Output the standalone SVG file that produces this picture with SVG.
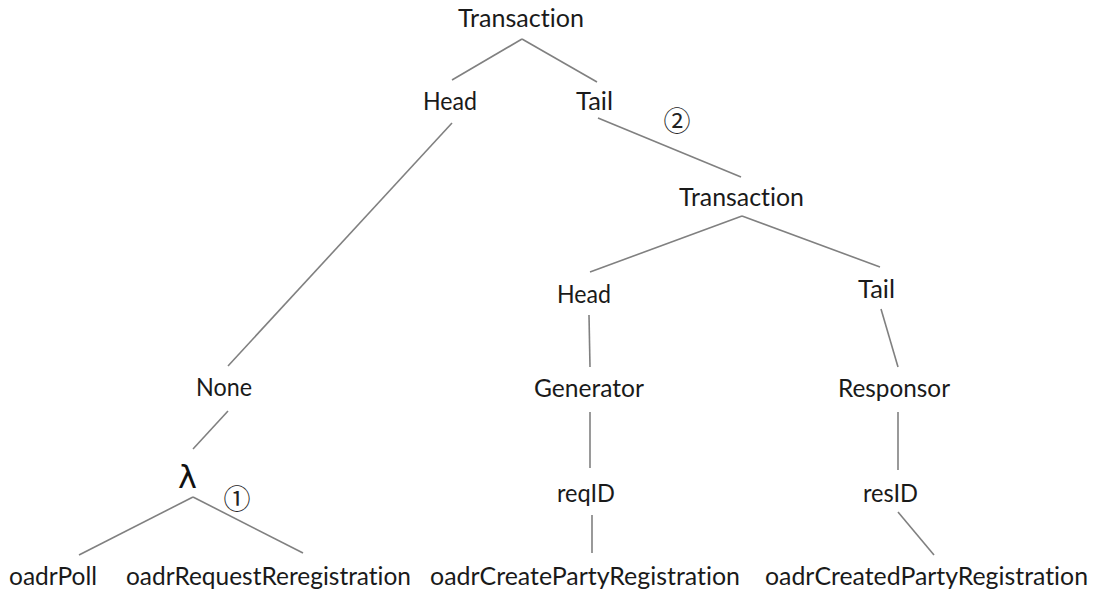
<svg xmlns="http://www.w3.org/2000/svg" width="1098" height="590" viewBox="0 0 1098 590">
<style>
.t{font-family:Lato,"Open Sans","Liberation Sans",sans-serif;font-size:24.5px;fill:#1a1a1a;font-variant-ligatures:none;font-feature-settings:"liga" 0}
.lam{font-family:"DejaVu Sans",sans-serif;font-size:32px;fill:#111}
.num{font-family:"Noto Sans CJK JP","DejaVu Sans",sans-serif;font-size:27px;fill:#222;text-anchor:middle}
.e line{stroke:#808080;stroke-width:1.6;fill:none}
</style>
<rect width="1098" height="590" fill="#fff"/>
<g id="connectors" class="e">
<line x1="522" y1="39" x2="452" y2="80"/>
<line x1="522" y1="39" x2="597" y2="82"/>
<line x1="452" y1="123" x2="228" y2="366"/>
<line x1="598" y1="118" x2="741" y2="177"/>
<line x1="742" y1="216" x2="590" y2="272"/>
<line x1="742" y1="216" x2="880" y2="267"/>
<line x1="589" y1="315" x2="590" y2="367"/>
<line x1="881" y1="309" x2="898" y2="367"/>
<line x1="228" y1="411" x2="193" y2="449"/>
<line x1="590" y1="412" x2="590" y2="468"/>
<line x1="898" y1="412" x2="898" y2="470"/>
<line x1="193" y1="497" x2="79" y2="555"/>
<line x1="193" y1="497" x2="303" y2="553"/>
<line x1="592" y1="515" x2="592" y2="553"/>
<line x1="898" y1="512" x2="934" y2="555"/>
</g>
<g id="n-transaction1"><text class="t" x="458" y="27" textLength="126" lengthAdjust="spacingAndGlyphs">Transaction</text></g>
<g id="n-head1"><text class="t" x="423" y="110" textLength="54" lengthAdjust="spacingAndGlyphs">Head</text></g>
<g id="n-tail1"><text class="t" x="576" y="110" textLength="37" lengthAdjust="spacingAndGlyphs">Tail</text></g>
<g id="label-2"><text class="num" x="677" y="131">②</text></g>
<g id="n-transaction2"><text class="t" x="679" y="206" textLength="125" lengthAdjust="spacingAndGlyphs">Transaction</text></g>
<g id="n-head2"><text class="t" x="557" y="303" textLength="54" lengthAdjust="spacingAndGlyphs">Head</text></g>
<g id="n-tail2"><text class="t" x="858" y="298" textLength="37" lengthAdjust="spacingAndGlyphs">Tail</text></g>
<g id="n-none"><text class="t" x="196" y="396" textLength="56" lengthAdjust="spacingAndGlyphs">None</text></g>
<g id="n-generator"><text class="t" x="534" y="397" textLength="110" lengthAdjust="spacingAndGlyphs">Generator</text></g>
<g id="n-responsor"><text class="t" x="838" y="397" textLength="112" lengthAdjust="spacingAndGlyphs">Responsor</text></g>
<g id="n-lambda"><text class="lam" x="178" y="488">λ</text></g>
<g id="label-1"><text class="num" x="237" y="509">①</text></g>
<g id="n-reqid"><text class="t" x="557" y="502" textLength="58" lengthAdjust="spacingAndGlyphs">reqID</text></g>
<g id="n-resid"><text class="t" x="863" y="502" textLength="55" lengthAdjust="spacingAndGlyphs">resID</text></g>
<g id="n-oadrpoll"><text class="t" x="9" y="585" textLength="88" lengthAdjust="spacingAndGlyphs">oadrPoll</text></g>
<g id="n-oadrrequest"><text class="t" x="126" y="585" textLength="285" lengthAdjust="spacingAndGlyphs">oadrRequestReregistration</text></g>
<g id="n-oadrcreate"><text class="t" x="430" y="585" textLength="310" lengthAdjust="spacingAndGlyphs">oadrCreatePartyRegistration</text></g>
<g id="n-oadrcreated"><text class="t" x="765" y="585" textLength="323" lengthAdjust="spacingAndGlyphs">oadrCreatedPartyRegistration</text></g>
</svg>
